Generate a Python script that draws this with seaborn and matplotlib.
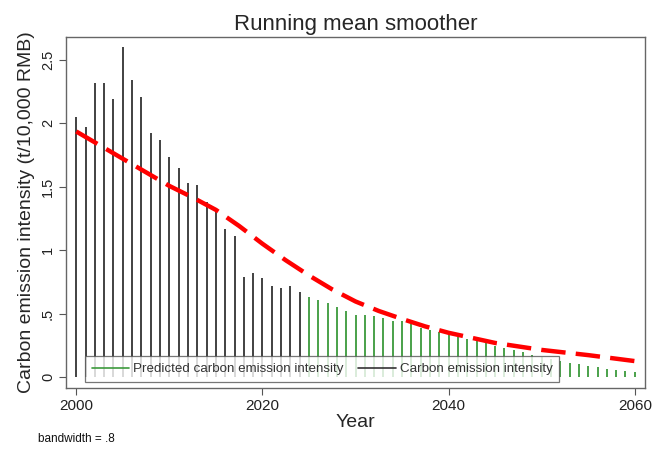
import numpy as np
import pandas as pd
import seaborn as sns
import matplotlib
matplotlib.use("Agg")
import matplotlib.pyplot as plt
from matplotlib.lines import Line2D

# observed intensity 2000-2024
obs_years = list(range(2000, 2025))
obs_vals = [2.05, 1.97, 2.32, 2.32, 2.19, 2.60, 2.34, 2.21, 1.92, 1.87,
            1.73, 1.65, 1.53, 1.51, 1.38, 1.33, 1.17, 1.11, 0.79, 0.82,
            0.78, 0.72, 0.70, 0.72, 0.67]

# predicted intensity 2025-2060
pred_years = list(range(2025, 2061))
pred_vals = [0.63, 0.61, 0.58, 0.55, 0.52, 0.49, 0.486, 0.48, 0.463, 0.442,
             0.44, 0.414, 0.389, 0.371, 0.353, 0.331, 0.313, 0.297, 0.281, 0.266,
             0.247, 0.23, 0.21, 0.195, 0.175, 0.16, 0.145, 0.129, 0.113, 0.100,
             0.089, 0.076, 0.065, 0.058, 0.050, 0.039]

# running mean smoother
smooth_years = [2000, 2005, 2010, 2012.5, 2015, 2017.5, 2020, 2022.5, 2025,
                2027.5, 2030, 2032.5, 2035, 2037.5, 2040, 2045, 2050, 2055, 2060]
smooth_vals = [1.935, 1.72, 1.506, 1.415, 1.317, 1.19, 1.05, 0.92, 0.80,
               0.69, 0.595, 0.52, 0.457, 0.398, 0.348, 0.268, 0.213, 0.172, 0.125]

xticks = [2000, 2020, 2040, 2060]
yticks = [0, 0.5, 1, 1.5, 2, 2.5]
ytick_labels = ["0", ".5", "1", "1.5", "2", "2.5"]

sns.set_theme(style="white")
plt.rcParams["font.family"] = ["Liberation Sans", "DejaVu Sans"]

smooth = pd.DataFrame({"Year": smooth_years, "Value": smooth_vals})

fig = plt.figure(figsize=(6.55, 4.55), dpi=100)
ax = fig.add_axes([0.1008, 0.1473, 0.884, 0.7714])

grey = "#333333"
green = "#3c9a3c"
ax.vlines(obs_years, 0, obs_vals, color=grey, lw=1.3, zorder=2)
ax.vlines(pred_years, 0, pred_vals, color=green, lw=1.3, zorder=2)

sns.lineplot(data=smooth, x="Year", y="Value", ax=ax, color="#ff0000",
             lw=3.2, dashes=False, zorder=3)
ax.lines[-1].set_dashes((5.5, 2.3))

ax.set_xlim(1998.9, 2061.1)
ax.set_ylim(-0.087, 2.68)
ax.set_xticks(xticks)
ax.set_xticklabels([str(t) for t in xticks], fontsize=11, color="#222222")
ax.set_yticks(yticks)
ax.set_yticklabels(ytick_labels, fontsize=10.5, rotation=90, va="center",
                   color="#222222")
ax.tick_params(axis="both", direction="out", length=5, width=0.8,
               color="#555555", left=True, bottom=True, pad=3)
for sp in ax.spines.values():
    sp.set_color("#666666")
    sp.set_linewidth(1.0)

ax.set_xlabel("Year", fontsize=14, labelpad=1)
ax.set_ylabel("Carbon emission intensity (t/10,000 RMB)", fontsize=14,
              labelpad=4)
ax.set_title("Running mean smoother", fontsize=16, pad=5)

handles = [Line2D([], [], color=green, lw=1.2),
           Line2D([], [], color=grey, lw=1.2)]
leg = ax.legend(handles, ["Predicted carbon emission intensity",
                          "Carbon emission intensity"],
                loc="lower left", bbox_to_anchor=(0.033, 0.017), ncol=2,
                fontsize=9.6, frameon=True, fancybox=False, borderaxespad=0,
                handlelength=2.8, columnspacing=1.1, handletextpad=0.3,
                borderpad=0.5, labelcolor="#333333")
leg.get_frame().set_edgecolor("#555555")
leg.get_frame().set_linewidth(0.9)
leg.set_zorder(5)

fig.text(0.058, 0.028, "bandwidth = .8", fontsize=8.5, color="#111111")

fig.savefig("out.png", dpi=100)
